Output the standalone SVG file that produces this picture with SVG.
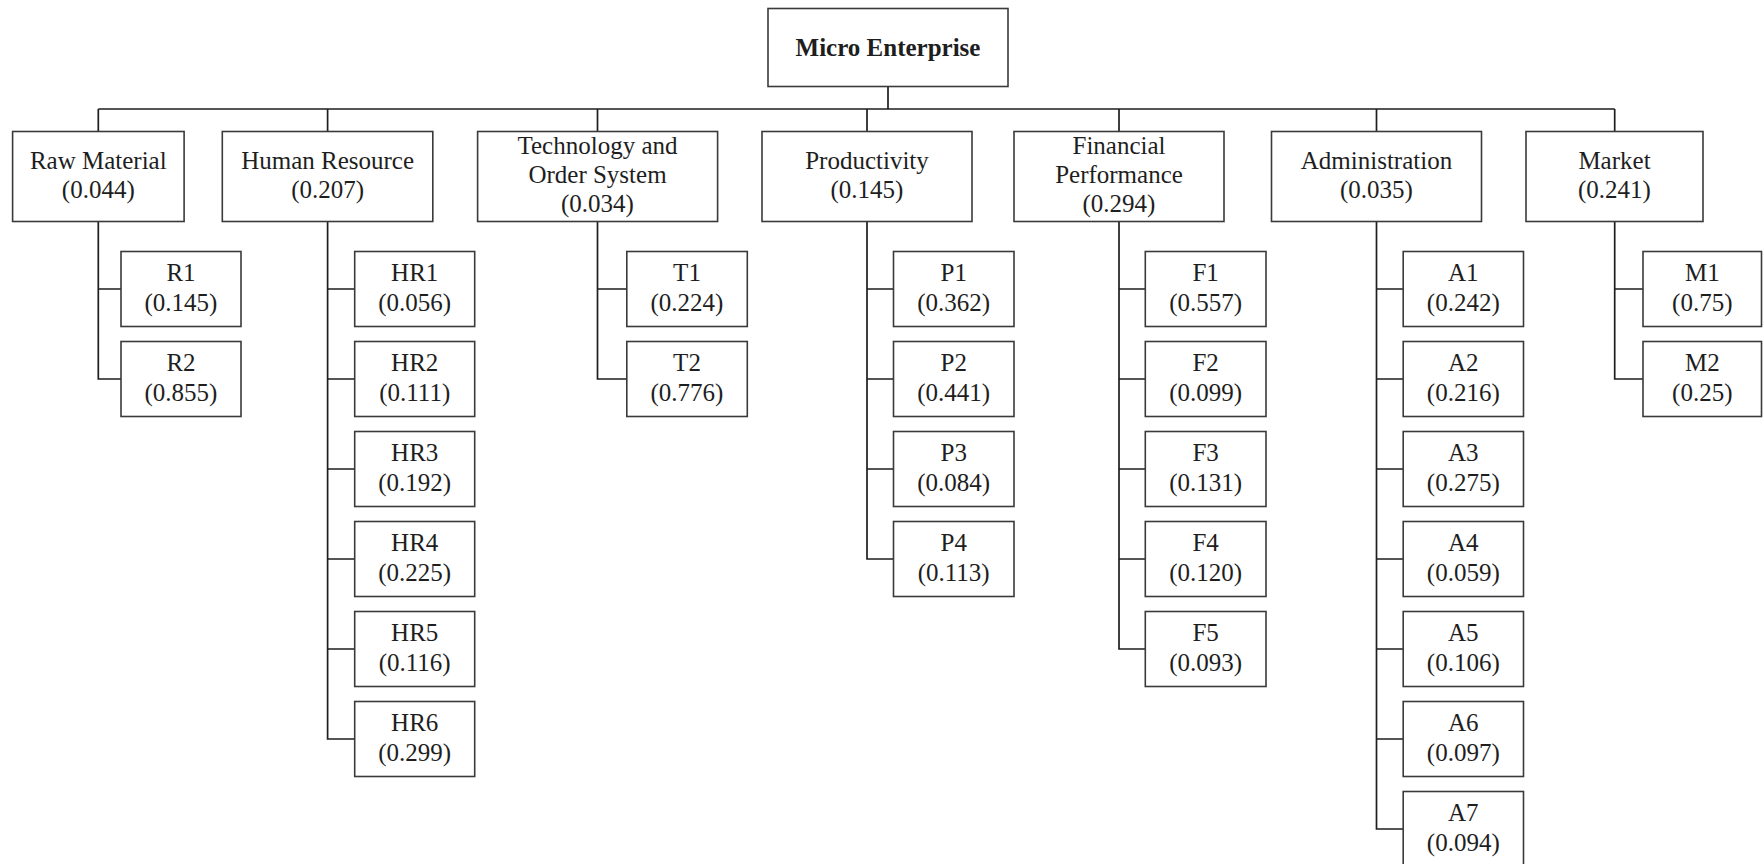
<svg xmlns="http://www.w3.org/2000/svg" width="1763" height="864" viewBox="0 0 1763 864">
<style>
.bx{fill:#fff;stroke:#3a3a3a;stroke-width:1.6}
.ln{fill:none;stroke:#1e1e1e;stroke-width:1.7}
text{font-family:"Liberation Serif","Times New Roman",serif;font-size:25px;fill:#1e1e1e;text-anchor:middle}
.b{font-weight:bold}
</style>
<rect width="1763" height="864" fill="#fff"/>
<g id="connectors" class="ln">
<path d="M888 87V109M98.3 109H1614.7"/>
<path d="M98.3 109V131.5M327.6 109V131.5M597.5 109V131.5M867 109V131.5M1119 109V131.5M1376.5 109V131.5M1614.7 109V131.5"/>
<path d="M98.3 221.5V379H121M98.3 289H121"/>
<path d="M327.6 221.5V739H354.7M327.6 289H354.7M327.6 379H354.7M327.6 469H354.7M327.6 559H354.7M327.6 649H354.7"/>
<path d="M597.5 221.5V379H626.8M597.5 289H626.8"/>
<path d="M867 221.5V559H893.5M867 289H893.5M867 379H893.5M867 469H893.5"/>
<path d="M1119 221.5V649H1145.3M1119 289H1145.3M1119 379H1145.3M1119 469H1145.3M1119 559H1145.3"/>
<path d="M1376.5 221.5V829H1403.2M1376.5 289H1403.2M1376.5 379H1403.2M1376.5 469H1403.2M1376.5 559H1403.2M1376.5 649H1403.2M1376.5 739H1403.2"/>
<path d="M1614.7 221.5V379H1643M1614.7 289H1643"/>
</g>
<g id="root"><rect class="bx" x="768" y="8.5" width="240" height="78"/><text class="b" x="888" y="56">Micro Enterprise</text></g>
<g id="raw"><rect class="bx" x="12.6" y="131.5" width="171.5" height="90"/><text x="98.3" y="169">Raw Material</text><text x="98.3" y="198">(0.044)</text></g>
<g id="hr"><rect class="bx" x="222.3" y="131.5" width="210.5" height="90"/><text x="327.6" y="169">Human Resource</text><text x="327.6" y="198">(0.207)</text></g>
<g id="tech"><rect class="bx" x="477.6" y="131.5" width="240" height="90"/><text x="597.5" y="154">Technology and</text><text x="597.5" y="183">Order System</text><text x="597.5" y="212">(0.034)</text></g>
<g id="prod"><rect class="bx" x="762" y="131.5" width="210" height="90"/><text x="867" y="169">Productivity</text><text x="867" y="198">(0.145)</text></g>
<g id="fin"><rect class="bx" x="1014" y="131.5" width="210" height="90"/><text x="1119" y="154">Financial</text><text x="1119" y="183">Performance</text><text x="1119" y="212">(0.294)</text></g>
<g id="adm"><rect class="bx" x="1271.5" y="131.5" width="210" height="90"/><text x="1376.5" y="169">Administration</text><text x="1376.5" y="198">(0.035)</text></g>
<g id="mkt"><rect class="bx" x="1526" y="131.5" width="177" height="90"/><text x="1614.5" y="169">Market</text><text x="1614.5" y="198">(0.241)</text></g>

<g id="R1"><rect class="bx" x="121" y="251.5" width="120" height="75"/><text x="181" y="281">R1</text><text x="181" y="311">(0.145)</text></g>
<g id="R2"><rect class="bx" x="121" y="341.5" width="120" height="75"/><text x="181" y="371">R2</text><text x="181" y="401">(0.855)</text></g>

<g id="HR1"><rect class="bx" x="354.7" y="251.5" width="120" height="75"/><text x="414.7" y="281">HR1</text><text x="414.7" y="311">(0.056)</text></g>
<g id="HR2"><rect class="bx" x="354.7" y="341.5" width="120" height="75"/><text x="414.7" y="371">HR2</text><text x="414.7" y="401">(0.111)</text></g>
<g id="HR3"><rect class="bx" x="354.7" y="431.5" width="120" height="75"/><text x="414.7" y="461">HR3</text><text x="414.7" y="491">(0.192)</text></g>
<g id="HR4"><rect class="bx" x="354.7" y="521.5" width="120" height="75"/><text x="414.7" y="551">HR4</text><text x="414.7" y="581">(0.225)</text></g>
<g id="HR5"><rect class="bx" x="354.7" y="611.5" width="120" height="75"/><text x="414.7" y="641">HR5</text><text x="414.7" y="671">(0.116)</text></g>
<g id="HR6"><rect class="bx" x="354.7" y="701.5" width="120" height="75"/><text x="414.7" y="731">HR6</text><text x="414.7" y="761">(0.299)</text></g>

<g id="T1"><rect class="bx" x="626.8" y="251.5" width="120.5" height="75"/><text x="687" y="281">T1</text><text x="687" y="311">(0.224)</text></g>
<g id="T2"><rect class="bx" x="626.8" y="341.5" width="120.5" height="75"/><text x="687" y="371">T2</text><text x="687" y="401">(0.776)</text></g>

<g id="P1"><rect class="bx" x="893.5" y="251.5" width="120.5" height="75"/><text x="953.7" y="281">P1</text><text x="953.7" y="311">(0.362)</text></g>
<g id="P2"><rect class="bx" x="893.5" y="341.5" width="120.5" height="75"/><text x="953.7" y="371">P2</text><text x="953.7" y="401">(0.441)</text></g>
<g id="P3"><rect class="bx" x="893.5" y="431.5" width="120.5" height="75"/><text x="953.7" y="461">P3</text><text x="953.7" y="491">(0.084)</text></g>
<g id="P4"><rect class="bx" x="893.5" y="521.5" width="120.5" height="75"/><text x="953.7" y="551">P4</text><text x="953.7" y="581">(0.113)</text></g>

<g id="F1"><rect class="bx" x="1145.3" y="251.5" width="120.7" height="75"/><text x="1205.6" y="281">F1</text><text x="1205.6" y="311">(0.557)</text></g>
<g id="F2"><rect class="bx" x="1145.3" y="341.5" width="120.7" height="75"/><text x="1205.6" y="371">F2</text><text x="1205.6" y="401">(0.099)</text></g>
<g id="F3"><rect class="bx" x="1145.3" y="431.5" width="120.7" height="75"/><text x="1205.6" y="461">F3</text><text x="1205.6" y="491">(0.131)</text></g>
<g id="F4"><rect class="bx" x="1145.3" y="521.5" width="120.7" height="75"/><text x="1205.6" y="551">F4</text><text x="1205.6" y="581">(0.120)</text></g>
<g id="F5"><rect class="bx" x="1145.3" y="611.5" width="120.7" height="75"/><text x="1205.6" y="641">F5</text><text x="1205.6" y="671">(0.093)</text></g>

<g id="A1"><rect class="bx" x="1403.2" y="251.5" width="120.3" height="75"/><text x="1463.3" y="281">A1</text><text x="1463.3" y="311">(0.242)</text></g>
<g id="A2"><rect class="bx" x="1403.2" y="341.5" width="120.3" height="75"/><text x="1463.3" y="371">A2</text><text x="1463.3" y="401">(0.216)</text></g>
<g id="A3"><rect class="bx" x="1403.2" y="431.5" width="120.3" height="75"/><text x="1463.3" y="461">A3</text><text x="1463.3" y="491">(0.275)</text></g>
<g id="A4"><rect class="bx" x="1403.2" y="521.5" width="120.3" height="75"/><text x="1463.3" y="551">A4</text><text x="1463.3" y="581">(0.059)</text></g>
<g id="A5"><rect class="bx" x="1403.2" y="611.5" width="120.3" height="75"/><text x="1463.3" y="641">A5</text><text x="1463.3" y="671">(0.106)</text></g>
<g id="A6"><rect class="bx" x="1403.2" y="701.5" width="120.3" height="75"/><text x="1463.3" y="731">A6</text><text x="1463.3" y="761">(0.097)</text></g>
<g id="A7"><rect class="bx" x="1403.2" y="791.5" width="120.3" height="75"/><text x="1463.3" y="821">A7</text><text x="1463.3" y="851">(0.094)</text></g>

<g id="M1"><rect class="bx" x="1643" y="251.5" width="118.5" height="75"/><text x="1702.3" y="281">M1</text><text x="1702.3" y="311">(0.75)</text></g>
<g id="M2"><rect class="bx" x="1643" y="341.5" width="118.5" height="75"/><text x="1702.3" y="371">M2</text><text x="1702.3" y="401">(0.25)</text></g>
</svg>
